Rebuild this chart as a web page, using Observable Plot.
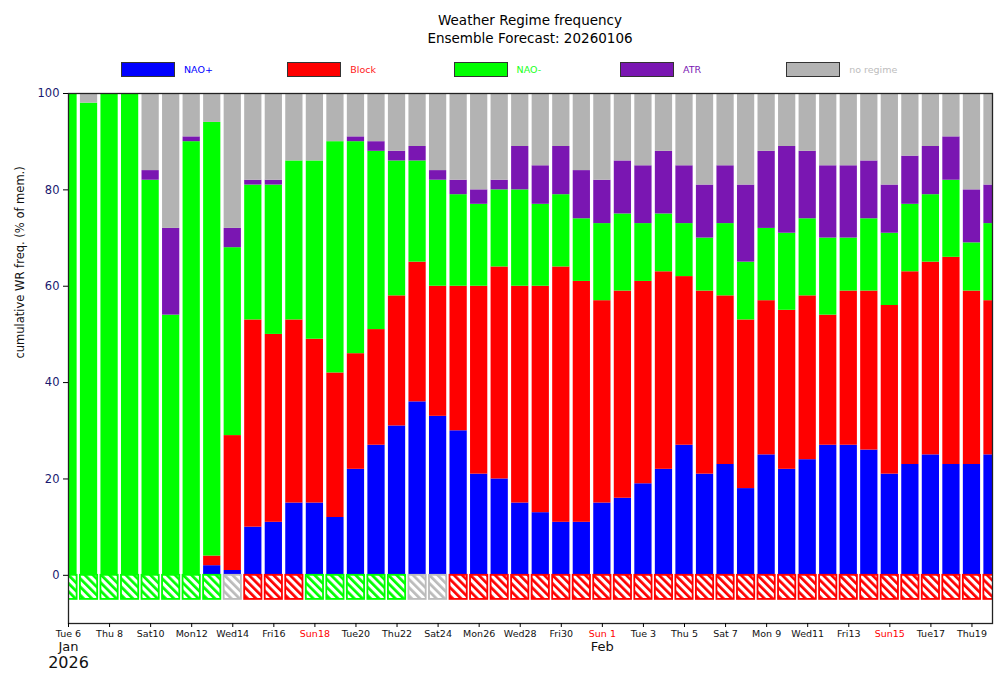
<!DOCTYPE html>
<html>
<head>
<meta charset="utf-8">
<script src="https://cdn.jsdelivr.net/npm/d3@7"></script>
<script src="https://cdn.jsdelivr.net/npm/@observablehq/plot@0.6"></script>
<style>
  html, body { margin: 0; padding: 0; background: #fff; }
  #wrap { position: relative; width: 1007px; height: 684px; font-family: "DejaVu Sans", sans-serif; }
  #chart { position: absolute; left: 0; top: 0; }
  #title { position: absolute; left: 330px; width: 400px; top: 11px; text-align: center;
           font-size: 13.5px; line-height: 18px; color: #000; z-index: 2; }
  .leg { position: absolute; top: 62px; height: 15px; z-index: 2; }
  .leg .box { position: absolute; left: 0; top: 0; width: 54px; height: 15px; box-sizing: border-box; border: 1px solid #333; }
  .leg .lab { position: absolute; left: 63px; top: 0; line-height: 15px; font-size: 9.5px; white-space: nowrap; }
</style>
</head>
<body>
<div id="wrap">
  <div id="chart"></div>
  <div id="title">Weather Regime frequency<br>Ensemble Forecast: 20260106</div>
</div>
<script>
// ---------------- data ----------------
const regimes = ["NAO+", "Block", "NAO-", "ATR", "no regime"];
const colors  = ["#0000ff", "#ff0000", "#00ff00", "#7a16b2", "#b3b3b3"];
const labelColors = ["#0000ff", "#ff2020", "#20ff20", "#7a16b2", "#bdbdbd"];
const hatchColors = {"NAO+": "#0000ff", "Block": "#ff0000", "NAO-": "#00ff00", "ATR": "#7a16b2", "no regime": "#bbbbbb"};

// days Jan 6 .. Feb 20, 2026
const days = d3.utcDay.range(new Date(Date.UTC(2026, 0, 6)), new Date(Date.UTC(2026, 1, 21)))
  .map(d => d3.utcFormat("%Y-%m-%d")(d));

const naoPlus = [0,0,0,0,0,0,0,2,1,
  10,11,15,15,12,22,27,31,36,33,
  30,21,20,15,13,11,11,
  15,16,19,22,27,21,23,18,25,22,
  24,27,27,26,21,23,25,23,23,25];
const block = [0,0,0,0,0,0,0,2,28,
  43,39,38,34,30,24,24,27,29,27,
  30,39,44,45,47,53,50,
  42,43,42,41,35,38,35,35,32,33,
  34,27,32,33,35,40,40,43,36,32];
const naoMinus = [100,98,100,100,82,54,90,90,39,
  28,31,33,37,48,44,37,28,21,22,
  19,17,16,20,17,15,13,
  16,16,12,12,11,11,15,12,15,16,
  16,16,11,15,15,14,14,16,10,16];
const atr = [0,0,0,0,2,18,1,0,4,
  1,1,0,0,0,1,2,2,3,2,
  3,3,2,9,8,10,10,
  9,11,12,13,12,11,12,16,16,18,
  14,15,15,12,10,10,10,9,11,8];
const noRegime = [0,2,0,0,16,28,9,6,28,
  18,18,14,14,10,9,10,12,11,16,
  18,20,18,11,15,11,16,
  18,14,15,12,15,19,15,19,12,11,
  12,15,15,14,19,13,11,9,20,19];

// dominant regime indicator (hatched boxes below zero)
const dominant = [
  "NAO-","NAO-","NAO-","NAO-","NAO-","NAO-","NAO-","NAO-",
  "no regime",
  "Block","Block","Block",
  "NAO-","NAO-","NAO-","NAO-","NAO-",
  "no regime","no regime",
  "Block","Block","Block","Block","Block","Block","Block",
  "Block","Block","Block","Block","Block","Block","Block","Block","Block","Block",
  "Block","Block","Block","Block","Block","Block","Block","Block","Block","Block"
];

const yTicks = [0, 20, 40, 60, 80, 100];
const yLabel = "cumulative WR freq. (% of mem.)";
const monthLabels = [
  {day: "2026-01-06", text: "Jan", size: 13, dy: 27},
  {day: "2026-01-06", text: "2026", size: 16, dy: 44},
  {day: "2026-02-01", text: "Feb", size: 13, dy: 27}
];

// ---------------- tables ----------------
const series = {"NAO+": naoPlus, "Block": block, "NAO-": naoMinus, "ATR": atr, "no regime": noRegime};
const table = days.flatMap((day, i) => regimes.map(r => ({day, regime: r, value: series[r][i]})));
const domTable = days.map((day, i) => ({day, regime: dominant[i]}));

const fmt = k => d3.utcFormat("%a%e")(new Date(k + "T00:00:00Z"));
const tickDays = days.filter((d, i) => i % 2 === 0);
const isSunday = k => new Date(k + "T00:00:00Z").getUTCDay() === 0;
const blackTicks = tickDays.filter(k => !isSunday(k));
const redTicks = tickDays.filter(k => isSunday(k));

const hatchMarks = regimes
  .map((r, idx) => ({r, idx}))
  .filter(({r}) => domTable.some(d => d.regime === r))
  .map(({r, idx}) => Plot.barY(domTable.filter(d => d.regime === r), {
    x: "day", y1: -5, y2: 0,
    fill: `url(#hatch-${idx})`, stroke: hatchColors[r], strokeWidth: 1.8, clip: true
  }));

const chart = Plot.plot({
  width: 1007,
  height: 684,
  marginTop: 93,
  marginBottom: 61,
  marginLeft: 68,
  marginRight: 15,
  style: {fontFamily: "DejaVu Sans, sans-serif", fontSize: "9px", background: "transparent"},
  x: {type: "band", domain: days, paddingInner: 0.16, paddingOuter: 0.08, round: false,
      insetLeft: -10.267, insetRight: -10.267},
  y: {domain: [-10, 100]},
  color: {domain: regimes, range: colors},
  marks: [
    Plot.barY(table, {x: "day", y: "value", fill: "regime", clip: true}),
    ...hatchMarks,
    Plot.frame({stroke: "#222", strokeWidth: 1.3}),
    Plot.axisY(yTicks, {tickSize: 5, tickPadding: 4, fontSize: 11.5, fill: "#191970", label: null}),
    Plot.axisX(blackTicks, {tickSize: 4, tickPadding: 3, fontSize: 9.5, tickFormat: fmt, label: null, fill: "#111"}),
    Plot.axisX(redTicks, {tickSize: 4, tickPadding: 3, fontSize: 9.5, tickFormat: fmt, label: null, fill: "#ff0000"}),
    ...monthLabels.map(m => Plot.text([m], {x: "day", text: "text", frameAnchor: "bottom", dy: m.dy, fontSize: m.size, fill: "#111"})),
    Plot.text([yLabel], {text: d => d, frameAnchor: "left", dx: -48, rotate: -90, fontSize: 11.5, fill: "#111"})
  ]
});

// hatch patterns
const defs = d3.select(chart).insert("defs", ":first-child");
regimes.forEach((r, idx) => {
  const p = defs.append("pattern")
    .attr("id", `hatch-${idx}`)
    .attr("patternUnits", "userSpaceOnUse")
    .attr("width", 5.8).attr("height", 5.8)
    .attr("patternTransform", "rotate(-45)");
  p.append("rect").attr("width", 5.8).attr("height", 5.8).attr("fill", "#ffffff");
  p.append("rect").attr("width", 2.7).attr("height", 5.8).attr("fill", hatchColors[r]);
});

document.getElementById("chart").appendChild(chart);

// legend
const wrap = document.getElementById("wrap");
regimes.forEach((r, i) => {
  const item = document.createElement("div");
  item.className = "leg";
  item.style.left = (121 + i * 166.3) + "px";
  const box = document.createElement("div");
  box.className = "box";
  box.style.background = colors[i];
  const lab = document.createElement("div");
  lab.className = "lab";
  lab.style.color = labelColors[i];
  lab.textContent = r;
  item.appendChild(box);
  item.appendChild(lab);
  wrap.appendChild(item);
});
</script>
</body>
</html>
